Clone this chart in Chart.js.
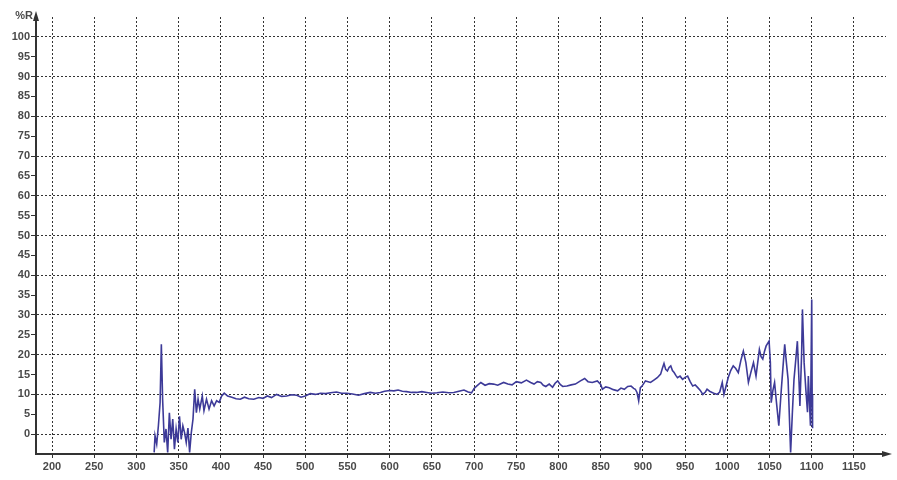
<!DOCTYPE html>
<html>
<head>
<meta charset="utf-8">
<script src="https://cdn.jsdelivr.net/npm/chart.js@4"></script>
<style>
  body { margin: 0; background: #fff; }
</style>
</head>
<body>
<canvas id="grafico" width="897" height="480"></canvas>
<script>
  // wavelength (nm) and reflectance (%R)
  const wavelength = [
    321, 322, 324, 326, 328, 329.5, 331, 333, 335, 337, 339, 341, 343, 345, 347, 349, 351, 353, 355, 357,
    359, 361, 363, 365, 367, 369, 371, 373, 375, 378, 380, 383, 386, 389, 392, 395, 398, 401, 404, 408,
    413, 418, 423, 428, 433, 439, 445, 450, 455, 460, 466, 472, 478, 484, 490, 495, 500, 506, 512, 518,
    524, 530, 537, 543, 549, 556, 563, 570, 577, 583, 589, 594, 600, 605, 610, 615, 620, 626, 632, 638,
    644, 650, 656, 663, 670, 676, 682, 688, 693, 697, 700, 703, 708, 713, 718, 723, 728, 735, 740, 745,
    750, 756, 762, 767, 771, 775, 779, 782, 785, 789, 793, 796, 799, 802, 805, 810, 815, 820, 826, 831,
    835, 840, 846, 850, 852, 856, 860, 865, 870, 874, 878, 882, 886, 889, 891, 893, 895, 897, 899, 903,
    909, 913, 917, 921, 923, 925, 927, 929, 931, 933, 935, 937, 939, 941, 944, 947, 950, 953, 956, 959,
    962, 965, 968, 971, 974, 976, 979, 982, 985, 988, 991, 994, 996, 999, 1001, 1004, 1007, 1010, 1013, 1016,
    1019, 1022, 1025, 1028, 1031, 1034, 1038, 1040, 1042, 1044, 1046, 1049.5, 1051, 1052, 1054, 1056, 1058, 1061, 1064, 1066,
    1068, 1070, 1072, 1075, 1077, 1079, 1081, 1083, 1085, 1086, 1088, 1089, 1091, 1093, 1095, 1096, 1098.5, 1100, 1100.5, 1101
  ];
  const reflectance = [
    -4.6, -0.4, -2.5, 2.1, 7.9, 22.6, 8.8, -2.1, 1.3, -4.6, 5.4, -1.3, 3.8, -3.8, 1.3, -2.1, 4.5, -1.3, 2.1, 0.4,
    -2.1, 1.5, -4.6, 0.4, 3.8, 11.3, 5.4, 8.8, 6.3, 9.6, 5.9, 8.8, 6.3, 8.4, 7.1, 8.4, 8.0, 9.6, 10.3, 9.6,
    9.3, 8.9, 8.8, 9.3, 8.9, 8.8, 9.2, 9.0, 9.6, 9.2, 10.0, 9.5, 9.6, 9.9, 9.8, 9.3, 9.6, 10.2, 10.0, 10.3,
    10.2, 10.4, 10.6, 10.3, 10.3, 10.1, 9.8, 10.2, 10.5, 10.3, 10.5, 10.8, 11.0, 10.9, 11.1, 10.8, 10.7, 10.5, 10.5, 10.7,
    10.5, 10.3, 10.4, 10.6, 10.4, 10.5, 10.8, 11.1, 10.6, 10.4, 11.5, 12.1, 13.0, 12.3, 12.7, 12.6, 12.3, 13.0, 12.6, 12.4,
    13.2, 12.9, 13.6, 13.0, 12.6, 13.2, 13.0, 12.3, 12.0, 12.6, 11.8, 12.8, 13.4, 12.5, 12.0, 12.1, 12.4, 12.6, 13.4, 14.0,
    13.2, 13.0, 13.4, 12.5, 11.3, 11.9, 11.7, 11.2, 10.9, 11.6, 11.3, 12.0, 12.1, 11.5, 11.3, 10.5, 8.4, 11.7, 12.1, 13.4,
    13.0, 13.6, 14.2, 15.1, 16.5, 17.8, 16.3, 15.9, 16.8, 17.2, 16.0, 15.5, 14.8, 14.2, 14.6, 13.8, 14.3, 14.6, 13.2, 12.1,
    12.4, 11.7, 11.0, 10.0, 10.6, 11.3, 10.8, 10.5, 10.2, 10.0, 10.6, 13.0, 10.0, 12.5, 14.2, 16.0, 17.2, 16.5, 15.5, 18.5,
    20.9, 18.0, 13.0, 15.6, 18.0, 14.6, 21.3, 19.5, 18.9, 20.8, 22.2, 23.4, 18.0, 7.9, 11.0, 13.0, 8.5, 2.1, 11.3, 17.0,
    22.6, 18.0, 13.8, -4.6, 5.0, 13.8, 18.5, 23.4, 13.0, 7.1, 20.0, 31.4, 18.0, 11.3, 5.5, 14.6, 2.1, 33.9, 10.0, 1.5
  ];
  const xTicks = [200, 250, 300, 350, 400, 450, 500, 550, 600, 650, 700, 750, 800, 850, 900, 950, 1000, 1050, 1100, 1150];
  const yTicks = [0, 5, 10, 15, 20, 25, 30, 35, 40, 45, 50, 55, 60, 65, 70, 75, 80, 85, 90, 95, 100];

  const puntos = wavelength.map((w, i) => ({ x: w, y: reflectance[i] }));
  const fuente = { family: 'Liberation Sans', size: 11, weight: 'bold' };
  const clear = 'rgba(0,0,0,0)';

  // arrows on the axes and the %R label
  const flechas = {
    id: 'flechas',
    afterDraw(chart) {
      const c = chart.ctx;
      const a = chart.chartArea;
      c.save();
      c.fillStyle = '#333';
      c.beginPath();
      c.moveTo(a.left, a.top - 6);
      c.lineTo(a.left - 3, a.top + 4);
      c.lineTo(a.left + 3, a.top + 4);
      c.closePath();
      c.fill();
      c.beginPath();
      c.moveTo(a.right + 6, a.bottom);
      c.lineTo(a.right - 4, a.bottom - 3);
      c.lineTo(a.right - 4, a.bottom + 3);
      c.closePath();
      c.fill();
      c.font = 'bold 11px "Liberation Sans"';
      c.fillStyle = '#4a4a4a';
      c.textAlign = 'right';
      c.textBaseline = 'middle';
      c.fillText('%R', a.left - 3, a.top - 1);
      c.restore();
    }
  };

  const ctx = document.getElementById('grafico').getContext('2d');
  const grafico = new Chart(ctx, {
    type: 'line',
    data: {
      datasets: [{
        label: '%R',
        data: puntos,
        borderColor: '#3d3a98',
        borderWidth: 1.6,
        pointRadius: 0,
        tension: 0,
        fill: false
      }]
    },
    options: {
      responsive: false,
      animation: false,
      layout: { padding: { top: 17, right: 11, left: 0, bottom: 0 } },
      plugins: { legend: { display: false }, tooltip: { enabled: false } },
      scales: {
        x: {
          type: 'linear',
          min: 181,
          max: 1188,
          afterBuildTicks: (s) => { s.ticks = xTicks.map(v => ({ value: v })); },
          afterFit: (s) => { s.height = 26; },
          ticks: {
            color: '#4a4a4a', font: fuente, padding: 2, maxRotation: 0, autoSkip: false,
            callback: (v) => String(v)
          },
          grid: {
            color: (c) => (c.tick && xTicks.includes(c.tick.value)) ? '#333' : clear,
            tickColor: (c) => (c.tick && xTicks.includes(c.tick.value)) ? '#333' : clear,
            lineWidth: 1,
            tickLength: 4
          },
          border: { display: true, color: '#333', width: 2, dash: [2, 2] }
        },
        y: {
          min: -5,
          max: 105,
          afterBuildTicks: (s) => { s.ticks = yTicks.map(v => ({ value: v })); },
          afterFit: (s) => { s.width = 36; },
          ticks: { color: '#4a4a4a', font: fuente, padding: 1, autoSkip: false },
          grid: {
            color: (c) => (c.tick && yTicks.includes(c.tick.value) && c.tick.value % 10 === 0) ? '#333' : clear,
            tickColor: (c) => (c.tick && yTicks.includes(c.tick.value)) ? '#333' : clear,
            lineWidth: 1,
            tickLength: 5
          },
          border: { display: true, color: '#333', width: 2, dash: [2, 2] }
        }
      }
    },
    plugins: [flechas]
  });
</script>
</body>
</html>
